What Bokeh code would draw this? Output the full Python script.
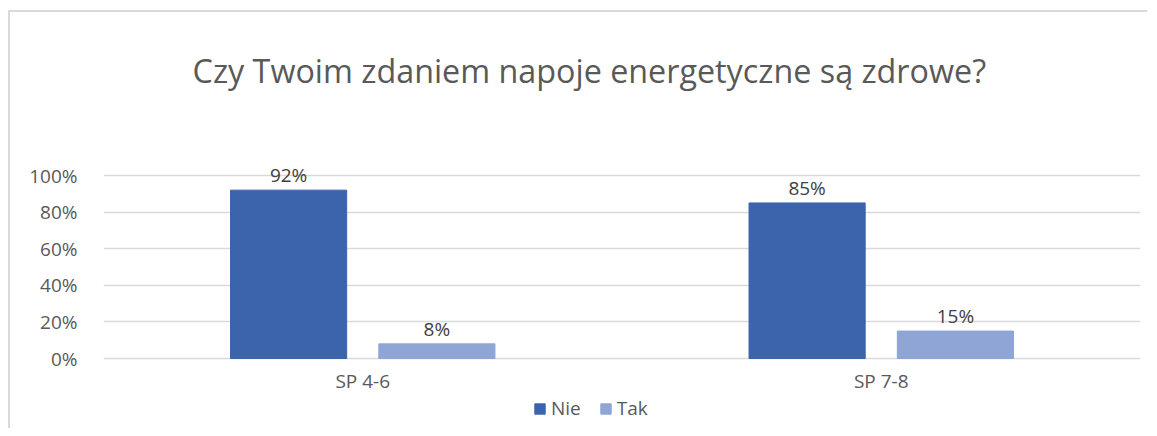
from bokeh.plotting import figure
from bokeh.models import Range1d, FixedTicker, NumeralTickFormatter, Legend, LegendItem, ColumnDataSource, LabelSet, Label
from bokeh.core.properties import value
from bokeh.embed import file_html
from bokeh.resources import INLINE

categories = ["SP 4-6", "SP 7-8"]
series_names = ["Nie", "Tak"]
nie_values = [0.92, 0.85]
tak_values = [0.08, 0.15]
nie_labels = ["92%", "85%"]
tak_labels = ["8%", "15%"]
title_text = "Czy Twoim zdaniem napoje energetyczne są zdrowe?"

FONT = "Open Sans"
C_NIE = "#3b64ad"
C_TAK = "#8fa5d6"
GRID = "#d9d9d9"
TXT = "#595959"

# frame covers full height; 1 unit = 183 px, y=0 at 346 px below canvas top
p = figure(width=1139, height=418, output_backend="svg", toolbar_location=None,
           x_range=Range1d(0, 2), y_range=Range1d(-0.3934, 1.8907),
           min_border_left=93, min_border_right=9, min_border_top=0, min_border_bottom=0)
p.outline_line_color = None
p.xgrid.visible = False
p.xaxis.visible = False
p.ygrid.grid_line_color = GRID
p.ygrid.grid_line_width = 1.5
p.ygrid.ticker = FixedTicker(ticks=[0, 0.2, 0.4, 0.6, 0.8, 1.0])
p.styles = {"border-top": "2px solid #dadada", "border-left": "2px solid #dadada",
            "margin-left": "8px", "margin-top": "10px"}

centers = [i + 0.5 for i in range(len(categories))]
off = 0.143
bw = 0.224
nie_x = [c - off for c in centers]
tak_x = [c + off for c in centers]

src_nie = ColumnDataSource(dict(x=nie_x, top=nie_values, lab=nie_labels))
src_tak = ColumnDataSource(dict(x=tak_x, top=tak_values, lab=tak_labels))
src_cat = ColumnDataSource(dict(x=centers, y=[0] * len(centers), lab=categories))

r1 = p.vbar(x="x", top="top", width=bw, source=src_nie, fill_color=C_NIE, line_color=C_NIE)
r2 = p.vbar(x="x", top="top", width=bw, source=src_tak, fill_color=C_TAK, line_color=C_TAK)

for src in (src_nie, src_tak):
    ls = LabelSet(x="x", y="top", text="lab", source=src, text_align="center", text_baseline="bottom",
                  y_offset=2, text_font=value(FONT), text_font_size=value("19px"),
                  text_color="#404040")
    p.add_layout(ls)

cat_labels = LabelSet(x="x", y="y", text="lab", source=src_cat, text_align="center",
                      text_baseline="middle", y_offset=-22, text_font=value(FONT),
                      text_font_size=value("19px"), text_color=TXT)
p.add_layout(cat_labels)

p.yaxis.ticker = FixedTicker(ticks=[0, 0.2, 0.4, 0.6, 0.8, 1.0])
p.yaxis.formatter = NumeralTickFormatter(format="0%")
p.yaxis.axis_line_color = None
p.yaxis.major_tick_line_color = None
p.yaxis.minor_tick_line_color = None
p.yaxis.major_label_text_font = FONT
p.yaxis.major_label_text_font_size = "19px"
p.yaxis.major_label_text_color = TXT
p.yaxis.major_label_standoff = 20

title = Label(x=0.937, y=1.579, text=title_text, text_align="center", text_baseline="middle",
              text_font=FONT, text_font_size="32.3px", text_color=TXT)
p.add_layout(title)

legend = Legend(items=[LegendItem(label=series_names[0], renderers=[r1]),
                       LegendItem(label=series_names[1], renderers=[r2])],
                orientation="horizontal", location=(430, 9), padding=0, margin=0,
                spacing=18, glyph_width=13, glyph_height=13, label_standoff=5,
                label_text_font=FONT, label_text_font_size="19px", label_text_color=TXT,
                border_line_color=None, background_fill_alpha=0)
p.add_layout(legend)

open("out.html", "w").write(file_html(p, INLINE))
